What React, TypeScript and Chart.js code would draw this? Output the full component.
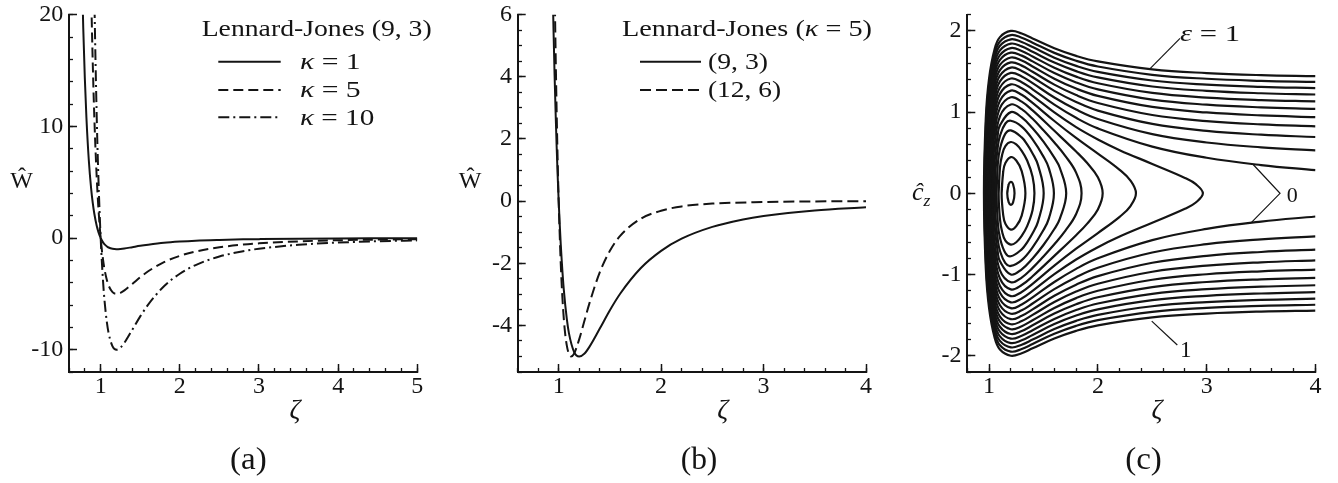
import React, { useEffect, useRef } from "react";
import { Chart, registerables } from "chart.js";

Chart.register(...registerables);

const FONT = "'Liberation Serif', 'Times New Roman', serif";
const INK = "#141414";

// ---------------- Panel (a): Lennard-Jones (9,3) for three kappa ----------------
const ZETA_A = [0.75, 0.76, 0.78, 0.8, 0.82, 0.85, 0.88, 0.9, 0.92, 0.95, 0.97, 1.0, 1.03, 1.05, 1.08, 1.1, 1.15, 1.2, 1.25, 1.3, 1.4, 1.5, 1.6, 1.8, 2.0, 2.2, 2.5, 2.8, 3.0, 3.5, 4.0, 4.5, 5.0];
const W_KAPPA_1 = [28.4, 24.8, 18.8, 14.3, 10.8, 6.99, 4.4, 3.14, 2.17, 1.09, 0.57, 0, -0.39, -0.57, -0.76, -0.85, -0.97, -1.0, -0.98, -0.94, -0.82, -0.7, -0.6, -0.43, -0.32, -0.24, -0.17, -0.12, -0.1, -0.06, -0.04, -0.03, -0.02];
const W_KAPPA_5 = [142, 124, 94, 71.4, 54, 34.9, 22.0, 15.7, 10.8, 5.46, 2.86, 0, -1.93, -2.85, -3.81, -4.25, -4.85, -5.0, -4.91, -4.69, -4.11, -3.51, -2.98, -2.16, -1.6, -1.21, -0.83, -0.59, -0.48, -0.3, -0.2, -0.14, -0.1];
const W_KAPPA_10 = [284, 248, 188, 143, 108, 69.9, 44.0, 31.4, 21.7, 10.9, 5.71, 0, -3.86, -5.7, -7.63, -8.5, -9.7, -10.0, -9.82, -9.38, -8.21, -7.02, -5.97, -4.32, -3.2, -2.42, -1.66, -1.18, -0.96, -0.61, -0.41, -0.29, -0.21];

// ---------------- Panel (b): kappa = 5, (9,3) vs (12,6) ----------------
const ZETA_B_93 = [0.9, 0.92, 0.93, 0.94, 0.95, 0.96, 0.97, 0.98, 0.99, 1.0, 1.01, 1.02, 1.03, 1.05, 1.08, 1.1, 1.15, 1.2, 1.25, 1.3, 1.4, 1.5, 1.6, 1.8, 2.0, 2.2, 2.5, 2.8, 3.0, 3.5, 4.0];
const W_B_93 = [15.7, 10.8, 8.81, 7.03, 5.46, 4.07, 2.86, 1.78, 0.83, 0, -0.73, -1.37, -1.93, -2.85, -3.81, -4.25, -4.85, -5.0, -4.91, -4.69, -4.11, -3.51, -2.98, -2.16, -1.6, -1.21, -0.83, -0.59, -0.48, -0.3, -0.2];
const ZETA_B_126 = [0.94, 0.95, 0.96, 0.97, 0.98, 0.99, 1.0, 1.02, 1.04, 1.06, 1.08, 1.1, 1.12, 1.15, 1.2, 1.25, 1.3, 1.4, 1.5, 1.6, 1.8, 2.0, 2.2, 2.5, 3.0, 3.5, 4.0];
const W_B_126 = [13.0, 9.81, 7.09, 4.81, 2.91, 1.32, 0, -1.99, -3.31, -4.16, -4.66, -4.92, -5.0, -4.91, -4.45, -3.87, -3.29, -2.3, -1.6, -1.12, -0.57, -0.31, -0.17, -0.08, -0.03, -0.01, -0.005];

// ---------------- Panel (c): contours, upper branches [zeta, c_z] ----------------
const C_EPS_P10 = [[0.953, 0], [0.97, 0.926], [1.0, 1.414], [1.05, 1.772], [1.1, 1.924], [1.2, 2.0], [1.3, 1.969], [1.4, 1.908], [1.6, 1.787], [1.8, 1.693], [2.0, 1.625], [2.5, 1.527], [3.0, 1.481], [3.5, 1.456], [4.0, 1.443]];
const C_EPS_P09 = [[0.957, 0], [0.97, 0.811], [1.0, 1.342], [1.05, 1.714], [1.1, 1.871], [1.2, 1.949], [1.3, 1.917], [1.4, 1.855], [1.6, 1.73], [1.8, 1.632], [2.0, 1.562], [2.5, 1.46], [3.0, 1.411], [3.5, 1.386], [4.0, 1.372]];
const C_EPS_P08 = [[0.961, 0], [0.97, 0.677], [1.0, 1.265], [1.05, 1.655], [1.1, 1.817], [1.2, 1.897], [1.3, 1.864], [1.4, 1.801], [1.6, 1.671], [1.8, 1.57], [2.0, 1.496], [2.5, 1.39], [3.0, 1.339], [3.5, 1.312], [4.0, 1.297]];
const C_EPS_P07 = [[0.965, 0], [0.97, 0.508], [1.0, 1.183], [1.05, 1.593], [1.1, 1.761], [1.2, 1.844], [1.3, 1.81], [1.4, 1.744], [1.6, 1.61], [1.8, 1.505], [2.0, 1.428], [2.5, 1.316], [3.0, 1.262], [3.5, 1.233], [4.0, 1.217]];
const C_EPS_P06 = [[0.969, 0], [0.98, 0.699], [1.0, 1.095], [1.05, 1.529], [1.1, 1.703], [1.2, 1.789], [1.3, 1.754], [1.4, 1.686], [1.6, 1.547], [1.8, 1.437], [2.0, 1.356], [2.5, 1.237], [3.0, 1.18], [3.5, 1.149], [4.0, 1.132]];
const C_EPS_P05 = [[0.973, 0], [0.98, 0.537], [1.0, 1.0], [1.05, 1.463], [1.1, 1.643], [1.2, 1.732], [1.3, 1.696], [1.4, 1.625], [1.6, 1.481], [1.8, 1.366], [2.0, 1.28], [2.5, 1.154], [3.0, 1.092], [3.5, 1.059], [4.0, 1.04]];
const C_EPS_P04 = [[0.978, 0], [0.99, 0.684], [1.0, 0.894], [1.05, 1.392], [1.1, 1.581], [1.2, 1.673], [1.3, 1.636], [1.4, 1.563], [1.6, 1.412], [1.8, 1.29], [2.0, 1.2], [2.5, 1.064], [3.0, 0.996], [3.5, 0.96], [4.0, 0.939]];
const C_EPS_P03 = [[0.983, 0], [0.99, 0.518], [1.0, 0.775], [1.05, 1.319], [1.1, 1.517], [1.2, 1.612], [1.3, 1.573], [1.4, 1.497], [1.6, 1.339], [1.8, 1.21], [2.0, 1.113], [2.5, 0.965], [3.0, 0.89], [3.5, 0.849], [4.0, 0.825]];
const C_EPS_P02 = [[0.988, 0], [1.0, 0.632], [1.02, 0.974], [1.05, 1.241], [1.1, 1.449], [1.2, 1.549], [1.3, 1.508], [1.4, 1.429], [1.6, 1.262], [1.8, 1.125], [2.0, 1.019], [2.5, 0.855], [3.0, 0.769], [3.5, 0.722], [4.0, 0.694]];
const C_EPS_P01 = [[0.994, 0], [1.0, 0.447], [1.02, 0.865], [1.05, 1.157], [1.1, 1.378], [1.2, 1.483], [1.3, 1.44], [1.4, 1.357], [1.6, 1.18], [1.8, 1.032], [2.0, 0.916], [2.5, 0.729], [3.0, 0.626], [3.5, 0.567], [4.0, 0.53]];
const C_EPS_000 = [[1.0, 0], [1.02, 0.74], [1.05, 1.067], [1.1, 1.304], [1.2, 1.414], [1.3, 1.369], [1.4, 1.281], [1.6, 1.092], [1.8, 0.93], [2.0, 0.8], [2.5, 0.576], [3.0, 0.438], [3.5, 0.348], [4.0, 0.285]];
const C_EPS_M01 = [[1.007, 0], [1.02, 0.59], [1.05, 0.969], [1.1, 1.225], [1.2, 1.342], [1.3, 1.294], [1.4, 1.201], [1.6, 0.996], [1.8, 0.815], [2.0, 0.663], [2.2, 0.532], [2.5, 0.362], [2.8, 0.19], [2.9, 0.113], [2.965, 0]];
const C_EPS_M02 = [[1.014, 0], [1.02, 0.385], [1.05, 0.86], [1.1, 1.14], [1.2, 1.265], [1.3, 1.214], [1.4, 1.114], [1.6, 0.891], [1.8, 0.682], [2.0, 0.489], [2.2, 0.289], [2.3, 0.156], [2.35, 0]];
const C_EPS_M03 = [[1.022, 0], [1.03, 0.415], [1.05, 0.734], [1.1, 1.049], [1.2, 1.183], [1.3, 1.129], [1.4, 1.021], [1.6, 0.77], [1.8, 0.515], [1.9, 0.376], [2.0, 0.198], [2.044, 0]];
const C_EPS_M04 = [[1.031, 0], [1.04, 0.411], [1.05, 0.582], [1.1, 0.949], [1.2, 1.095], [1.3, 1.037], [1.4, 0.918], [1.5, 0.777], [1.6, 0.627], [1.7, 0.462], [1.8, 0.255], [1.85, 0]];
const C_EPS_M05 = [[1.042, 0], [1.05, 0.373], [1.08, 0.725], [1.1, 0.837], [1.2, 1.0], [1.3, 0.935], [1.4, 0.801], [1.5, 0.636], [1.6, 0.439], [1.65, 0.315], [1.709, 0]];
const C_EPS_M06 = [[1.054, 0], [1.06, 0.295], [1.08, 0.571], [1.1, 0.707], [1.15, 0.86], [1.2, 0.894], [1.3, 0.822], [1.4, 0.665], [1.5, 0.452], [1.55, 0.308], [1.596, 0]];
const C_EPS_M07 = [[1.069, 0], [1.08, 0.355], [1.1, 0.548], [1.15, 0.735], [1.2, 0.775], [1.3, 0.689], [1.35, 0.603], [1.4, 0.492], [1.45, 0.348], [1.502, 0]];
const C_EPS_M08 = [[1.088, 0], [1.1, 0.316], [1.12, 0.474], [1.15, 0.583], [1.2, 0.632], [1.25, 0.602], [1.3, 0.524], [1.35, 0.404], [1.4, 0.205], [1.417, 0]];
const C_EPS_M09 = [[1.1155, 0], [1.13, 0.267], [1.15, 0.374], [1.2, 0.447], [1.25, 0.404], [1.3, 0.274], [1.334, 0]];
const C_EPS_M099 = [[1.167, 0], [1.18, 0.109], [1.2, 0.141], [1.22, 0.115], [1.234, 0]];

const CONTOURS = [C_EPS_P10, C_EPS_P09, C_EPS_P08, C_EPS_P07, C_EPS_P06, C_EPS_P05, C_EPS_P04, C_EPS_P03, C_EPS_P02, C_EPS_P01, C_EPS_000, C_EPS_M01, C_EPS_M02, C_EPS_M03, C_EPS_M04, C_EPS_M05, C_EPS_M06, C_EPS_M07, C_EPS_M08, C_EPS_M09, C_EPS_M099];

// leader lines of the contour labels, in data units [zeta, c_z]
const LEADER_EPS_ONE = [[2.755, 1.909], [2.473, 1.527]];
const LEADER_ZERO = [[3.429, 0.352], [3.674, 0], [3.414, -0.355]];
const LEADER_ONE_LOW = [[2.73, -1.868], [2.495, -1.573]];

// ---------------- layout ----------------
const CANVAS_W = 446;
const CANVAS_H = 483;
const Y_AXIS_W = 60;
const X_AXIS_H = 60;

type Seg = { t: string; it?: boolean; sub?: boolean };
type TextItem = { segs: Seg[]; x: number; y: number; size: number; w?: number; align?: "left" | "center" };
type LegendRow = { ds: number; x1: number; x2: number; ly: number; segs: Seg[]; tx: number; ty: number; w: number };

function segFont(s: Seg, size: number) {
  const px = s.sub ? size * 0.68 : size;
  return `${s.it ? "italic " : ""}${px}px ${FONT}`;
}

function drawRich(ctx: CanvasRenderingContext2D, item: TextItem) {
  let natural = 0;
  for (const s of item.segs) {
    ctx.font = segFont(s, item.size);
    natural += ctx.measureText(s.t).width;
  }
  const width = item.w ?? natural;
  const sx = width / natural;
  const left = item.align === "center" ? item.x - width / 2 : item.x;
  ctx.save();
  ctx.translate(left, item.y);
  ctx.scale(sx, 1);
  ctx.textAlign = "left";
  ctx.textBaseline = "alphabetic";
  let cx = 0;
  for (const s of item.segs) {
    ctx.font = segFont(s, item.size);
    ctx.fillText(s.t, cx, s.sub ? item.size * 0.24 : 0);
    cx += ctx.measureText(s.t).width;
  }
  ctx.restore();
}

function textPlugin(offset: number, texts: TextItem[], rows: LegendRow[]) {
  return {
    id: "panelText" + offset,
    afterDraw(chart: any) {
      const ctx: CanvasRenderingContext2D = chart.ctx;
      ctx.save();
      ctx.translate(-offset, 0);
      ctx.fillStyle = INK;
      ctx.strokeStyle = INK;
      for (const t of texts) drawRich(ctx, t);
      for (const r of rows) {
        const ds = chart.data.datasets[r.ds];
        ctx.save();
        ctx.lineWidth = ds.borderWidth;
        ctx.setLineDash(ds.borderDash || []);
        ctx.beginPath();
        ctx.moveTo(r.x1, r.ly);
        ctx.lineTo(r.x2, r.ly);
        ctx.stroke();
        ctx.restore();
        drawRich(ctx, { segs: r.segs, x: r.tx, y: r.ty, size: 23, w: r.w });
      }
      ctx.restore();
    },
  };
}

type Axes = { xMin: number; xMax: number; xMajor: number; xMinor: number; yMin: number; yMax: number; yMajor: number; yMinor: number };

function buildScales(a: Axes) {
  const tickFont = { family: FONT, size: 24 };
  const zero = (s: any) => {
    s.paddingLeft = 0; s.paddingRight = 0; s.paddingTop = 0; s.paddingBottom = 0;
  };
  return {
    x: {
      type: "linear", position: "bottom", min: a.xMin, max: a.xMax,
      afterFit: (s: any) => { s.height = X_AXIS_H; zero(s); },
      ticks: { stepSize: a.xMajor, includeBounds: false, autoSkip: false, maxRotation: 0, minRotation: 0, font: tickFont, color: INK, padding: 8.5, callback: (v: any) => String(v) },
      grid: { drawOnChartArea: false, drawTicks: true, tickLength: -8, tickWidth: 1.5, tickColor: INK },
      border: { display: true, width: 2, color: INK },
    },
    y: {
      type: "linear", position: "left", min: a.yMin, max: a.yMax,
      afterFit: (s: any) => { s.width = Y_AXIS_W; zero(s); },
      ticks: { stepSize: a.yMajor, includeBounds: false, autoSkip: false, font: tickFont, color: INK, padding: 13.7, callback: (v: any) => String(v) },
      grid: { drawOnChartArea: false, drawTicks: true, tickLength: -8, tickWidth: 1.5, tickColor: INK },
      border: { display: true, width: 2, color: INK },
    },
    xMinor: {
      type: "linear", axis: "x", position: { y: a.yMin }, min: a.xMin, max: a.xMax,
      afterFit: (s: any) => { s.height = 0; zero(s); },
      ticks: { stepSize: a.xMinor, display: false, autoSkip: false },
      grid: { drawOnChartArea: false, drawTicks: true, tickLength: -4, tickWidth: 1.3, tickColor: INK },
      border: { display: false },
    },
    yMinor: {
      type: "linear", axis: "y", position: { x: a.xMin }, min: a.yMin, max: a.yMax,
      afterFit: (s: any) => { s.width = 0; zero(s); },
      ticks: { stepSize: a.yMinor, display: false, autoSkip: false },
      grid: { drawOnChartArea: false, drawTicks: true, tickLength: -4, tickWidth: 1.3, tickColor: INK },
      border: { display: false },
    },
  };
}

type Area = { left: number; right: number; top: number; bottom: number };

function makeConfig(offset: number, area: Area, axes: Axes, datasets: any[], texts: TextItem[], rows: LegendRow[]) {
  return {
    type: "scatter",
    data: { datasets },
    options: {
      animation: false,
      responsive: false,
      devicePixelRatio: 1,
      events: [],
      layout: {
        padding: {
          left: area.left - offset - Y_AXIS_W,
          right: offset + CANVAS_W - area.right,
          top: area.top,
          bottom: CANVAS_H - area.bottom - X_AXIS_H,
        },
      },
      plugins: { legend: { display: false }, tooltip: { enabled: false }, title: { display: false } },
      scales: buildScales(axes),
    },
    plugins: [textPlugin(offset, texts, rows)],
  };
}

function curve(label: string, xs: number[], ys: number[], dash: number[]) {
  return {
    label,
    data: xs.map((x, i) => ({ x, y: ys[i] })),
    xAxisID: "x", yAxisID: "y",
    showLine: true, borderColor: INK, borderWidth: 2, borderDash: dash,
    pointRadius: 0, cubicInterpolationMode: "monotone", fill: false,
  };
}

function contourPath(upper: number[][]) {
  const last = upper[upper.length - 1];
  const closed = last[1] === 0;
  const up = upper.map(([x, y]) => ({ x, y }));
  if (!closed) {
    const low = upper.slice(1).reverse().map(([x, y]) => ({ x, y: -y }));
    return [...low, ...up];
  }
  const low = upper.slice(1, -1).reverse().map(([x, y]) => ({ x, y: -y }));
  return [...up, ...low, up[0], up[1]];
}

function leader(pts: number[][]) {
  return {
    label: "leader",
    data: pts.map(([x, y]) => ({ x, y })),
    xAxisID: "x", yAxisID: "y",
    showLine: true, borderColor: INK, borderWidth: 1.2, pointRadius: 0, tension: 0,
  };
}

const K = (n: string): Seg[] => [{ t: "κ", it: true }, { t: " = " + n }];

function configA() {
  const datasets = [
    curve("κ = 1", ZETA_A, W_KAPPA_1, []),
    curve("κ = 5", ZETA_A, W_KAPPA_5, [10, 5]),
    curve("κ = 10", ZETA_A, W_KAPPA_10, [11, 4, 2, 4]),
  ];
  const texts: TextItem[] = [
    { segs: [{ t: "Lennard-Jones (9, 3)" }], x: 201.7, y: 36, size: 23, w: 230 },
    { segs: [{ t: "Ŵ" }], x: 21.7, y: 188, size: 24, align: "center" },
    { segs: [{ t: "ζ", it: true }], x: 295, y: 418, size: 27, align: "center" },
    { segs: [{ t: "(a)" }], x: 248.3, y: 469, size: 32, w: 36.7, align: "center" },
  ];
  const rows: LegendRow[] = [
    { ds: 0, x1: 218.3, x2: 280.7, ly: 61.7, segs: K("1"), tx: 300, ty: 68.5, w: 60.7 },
    { ds: 1, x1: 218.3, x2: 280.7, ly: 90, segs: K("5"), tx: 300, ty: 97, w: 60.7 },
    { ds: 2, x1: 218.3, x2: 280.7, ly: 117.3, segs: K("10"), tx: 300, ty: 124.5, w: 74.3 },
  ];
  return makeConfig(0, { left: 69, right: 417.3, top: 14.7, bottom: 372 },
    { xMin: 0.6, xMax: 5, xMajor: 1, xMinor: 0.2, yMin: -12, yMax: 20, yMajor: 10, yMinor: 2 },
    datasets, texts, rows);
}

function configB() {
  const datasets = [
    curve("(9, 3)", ZETA_B_93, W_B_93, []),
    curve("(12, 6)", ZETA_B_126, W_B_126, [11, 5]),
  ];
  const texts: TextItem[] = [
    { segs: [{ t: "Lennard-Jones (" }, { t: "κ", it: true }, { t: " = 5)" }], x: 622, y: 36, size: 23, w: 250 },
    { segs: [{ t: "Ŵ" }], x: 470, y: 188, size: 24, align: "center" },
    { segs: [{ t: "ζ", it: true }], x: 722.7, y: 418, size: 27, align: "center" },
    { segs: [{ t: "(b)" }], x: 699, y: 469, size: 32, w: 36.7, align: "center" },
  ];
  const rows: LegendRow[] = [
    { ds: 0, x1: 640, x2: 701, ly: 61.7, segs: [{ t: "(9, 3)" }], tx: 708, ty: 68.5, w: 60 },
    { ds: 1, x1: 640, x2: 701, ly: 90, segs: [{ t: "(12, 6)" }], tx: 708, ty: 97, w: 73 },
  ];
  return makeConfig(446, { left: 517.7, right: 866, top: 14.7, bottom: 372 },
    { xMin: 0.6, xMax: 4, xMajor: 1, xMinor: 0.2, yMin: -5.5, yMax: 6, yMajor: 2, yMinor: 0.5 },
    datasets, texts, rows);
}

function configC() {
  const datasets: any[] = CONTOURS.map((c, i) => ({
    label: "contour " + i,
    data: contourPath(c),
    xAxisID: "x", yAxisID: "y",
    showLine: true, borderColor: INK, borderWidth: 2.2, pointRadius: 0, tension: 0.4,
  }));
  datasets.push(leader(LEADER_EPS_ONE), leader(LEADER_ZERO), leader(LEADER_ONE_LOW));
  const texts: TextItem[] = [
    { segs: [{ t: "ĉ", it: true }, { t: "z", it: true, sub: true }], x: 912, y: 200, size: 26 },
    { segs: [{ t: "ζ", it: true }], x: 1157, y: 418, size: 27, align: "center" },
    { segs: [{ t: "(c)" }], x: 1143.5, y: 469, size: 32, w: 36.7, align: "center" },
    { segs: [{ t: "ε", it: true }, { t: " = 1" }], x: 1180, y: 40.7, size: 23, w: 60 },
    { segs: [{ t: "0" }], x: 1286.7, y: 201.7, size: 22 },
    { segs: [{ t: "1" }], x: 1180, y: 356.7, size: 23 },
  ];
  return makeConfig(892, { left: 967.3, right: 1315.5, top: 14.7, bottom: 372 },
    { xMin: 0.8, xMax: 4, xMajor: 1, xMinor: 0.2, yMin: -2.2, yMax: 2.2, yMajor: 1, yMinor: 0.2 },
    datasets, texts, []);
}

function PanelChart({ offset, build }: { offset: number; build: () => any }) {
  const ref = useRef<HTMLCanvasElement>(null);
  useEffect(() => {
    const chart = new Chart(ref.current as HTMLCanvasElement, build());
    return () => chart.destroy();
  }, []);
  return (
    <canvas
      ref={ref}
      width={CANVAS_W}
      height={CANVAS_H}
      style={{ position: "absolute", left: offset, top: 0, width: CANVAS_W, height: CANVAS_H }}
    />
  );
}

export default function App() {
  return (
    <div style={{ position: "absolute", left: 0, top: 0, width: 1338, height: 483, background: "#fff", overflow: "hidden" }}>
      <PanelChart offset={0} build={configA} />
      <PanelChart offset={446} build={configB} />
      <PanelChart offset={892} build={configC} />
    </div>
  );
}
